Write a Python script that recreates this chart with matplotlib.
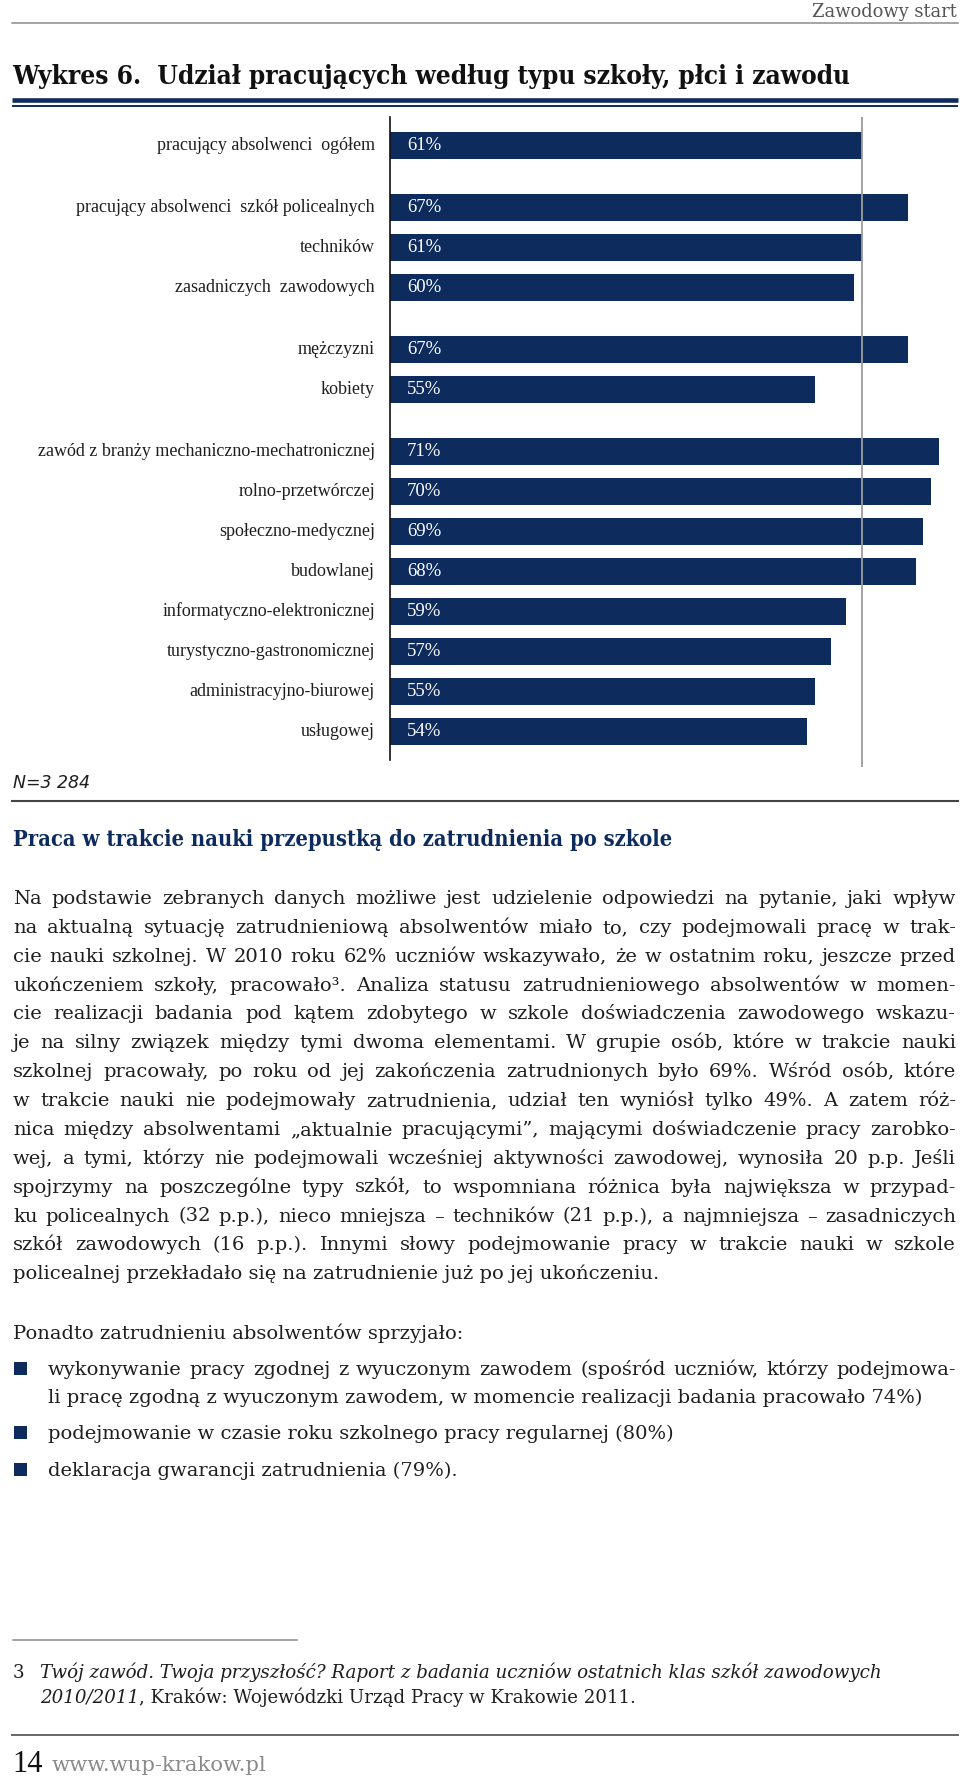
import matplotlib
matplotlib.use("Agg")
import matplotlib.pyplot as plt
from matplotlib.patches import Rectangle

# dane wykresu
kategorie = [
    "pracujący absolwenci  ogółem",
    "pracujący absolwenci  szkół policealnych",
    "techników",
    "zasadniczych  zawodowych",
    "mężczyzni",
    "kobiety",
    "zawód z branży mechaniczno-mechatronicznej",
    "rolno-przetwórczej",
    "społeczno-medycznej",
    "budowlanej",
    "informatyczno-elektronicznej",
    "turystyczno-gastronomicznej",
    "administracyjno-biurowej",
    "usługowej",
]
wartosci = [61, 67, 61, 60, 67, 55, 71, 70, 69, 68, 59, 57, 55, 54]
grupy = [1, 3, 2, 8]
srednia = 61

tytul = "Wykres 6.  Udział pracujących według typu szkoły, płci i zawodu"
naglowek = "Praca w trakcie nauki przepustką do zatrudnienia po szkole"
akapit = [
    "Na podstawie zebranych danych możliwe jest udzielenie odpowiedzi na pytanie, jaki wpływ",
    "na aktualną sytuację zatrudnieniową absolwentów miało to, czy podejmowali pracę w trak-",
    "cie nauki szkolnej. W 2010 roku 62% uczniów wskazywało, że w ostatnim roku, jeszcze przed",
    "ukończeniem szkoły, pracowało³. Analiza statusu zatrudnieniowego absolwentów w momen-",
    "cie realizacji badania pod kątem zdobytego w szkole doświadczenia zawodowego wskazu-",
    "je na silny związek między tymi dwoma elementami. W grupie osób, które w trakcie nauki",
    "szkolnej pracowały, po roku od jej zakończenia zatrudnionych było 69%. Wśród osób, które",
    "w trakcie nauki nie podejmowały zatrudnienia, udział ten wyniósł tylko 49%. A zatem róż-",
    "nica między absolwentami „aktualnie pracującymi”, mającymi doświadczenie pracy zarobko-",
    "wej, a tymi, którzy nie podejmowali wcześniej aktywności zawodowej, wynosiła 20 p.p. Jeśli",
    "spojrzymy na poszczególne typy szkół, to wspomniana różnica była największa w przypad-",
    "ku policealnych (32 p.p.), nieco mniejsza – techników (21 p.p.), a najmniejsza – zasadniczych",
    "szkół zawodowych (16 p.p.). Innymi słowy podejmowanie pracy w trakcie nauki w szkole",
    "policealnej przekładało się na zatrudnienie już po jej ukończeniu.",
]
wstep_listy = "Ponadto zatrudnieniu absolwentów sprzyjało:"
lista = [
    ["wykonywanie pracy zgodnej z wyuczonym zawodem (spośród uczniów, którzy podejmowa-",
     "li pracę zgodną z wyuczonym zawodem, w momencie realizacji badania pracowało 74%)"],
    ["podejmowanie w czasie roku szkolnego pracy regularnej (80%)"],
    ["deklaracja gwarancji zatrudnienia (79%)."],
]
przypis_1 = "Twój zawód. Twoja przyszłość? Raport z badania uczniów ostatnich klas szkół zawodowych"
przypis_2a = "2010/2011"
przypis_2b = ", Kraków: Wojewódzki Urząd Pracy w Krakowie 2011."

NAVY = "#0d2b5c"
TXT = "#1e1e1e"
SERIF = ["DejaVu Serif"]

W, H = 960, 1779
fig = plt.figure(figsize=(W / 100, H / 100), dpi=100)

# warstwa strony w pikselach
pg = fig.add_axes([0, 0, 1, 1])
pg.set_xlim(0, W)
pg.set_ylim(H, 0)
pg.axis("off")
r = fig.canvas.get_renderer()


def szer(t):
    return t.get_window_extent(r).width


def dopasuj(x, y, s, target, **kw):
    t = pg.text(x, y, s, fontsize=10, **kw)
    t.set_fontsize(10 * target / szer(t))
    return t


def wyjustuj(linia, x0, x1, y, size, **kw):
    slowa = linia.split(" ")
    teksty = [pg.text(0, y, s, fontsize=size, va="baseline", **kw) for s in slowa]
    ws = [szer(t) for t in teksty]
    gap = (x1 - x0 - sum(ws)) / max(len(slowa) - 1, 1)
    x = x0
    for t, w in zip(teksty, ws):
        t.set_x(x)
        x += w + gap


# nagłówek strony
dopasuj(957, 17, "Zawodowy start", 145, ha="right", va="baseline",
        family=SERIF, color="#555555")
pg.plot([12, 958], [23, 23], color="#8c8c8c", lw=1.1)

dopasuj(12, 84, tytul, 840, va="baseline", family=SERIF, fontweight="bold",
        fontstretch="condensed", color="#111111")
pg.plot([12, 958], [100, 100], color=NAVY, lw=3.3, solid_capstyle="butt")
pg.plot([12, 958], [106.3, 106.3], color=NAVY, lw=1.4, solid_capstyle="butt")

# wykres słupkowy
poz = []
p = 0.0
for g in grupy:
    for i in range(g):
        poz.append(p)
        p += 1
    p += 0.55

ax = fig.add_axes([390 / W, (H - 767) / H, 570 / W, 650 / H])
ax.barh(poz, wartosci, height=0.69, color=NAVY, zorder=2)
ax.axvline(srednia, color="#9c9c9c", lw=1.3, zorder=3)
ax.set_xlim(0, 570 / 7.73)
ax.set_ylim(15.54, -0.7125)
for s in ["top", "right", "bottom"]:
    ax.spines[s].set_visible(False)
ax.spines["left"].set_color("#111111")
ax.spines["left"].set_linewidth(1.2)
ax.spines["left"].set_bounds(-0.7125, 15.36)
ax.set_xticks([])
ax.set_yticks([])
ax.patch.set_alpha(0)

for y, lab, v in zip(poz, kategorie, wartosci):
    ax.annotate(lab, (0, y), xytext=(-15, 0), textcoords="offset pixels",
                ha="right", va="center", fontsize=13, family="Liberation Serif",
                color=TXT)
    ax.annotate(f"{v}%", (0, y), xytext=(17, 0), textcoords="offset pixels",
                ha="left", va="center", fontsize=13.5, family="Liberation Serif",
                color="white", zorder=4)

pg.text(13, 783, "N=3 284", fontsize=12.5, family="DejaVu Sans", style="italic",
        va="center", color=TXT)
pg.plot([12, 958], [801, 801], color="#444444", lw=1.5)

# tekst pod wykresem
dopasuj(13, 846, naglowek, 660, va="baseline", family=SERIF, fontweight="bold",
        fontstretch="condensed", color=NAVY)

# rozmiar czcionki akapitu tak, by najgęstsza linia się mieściła
proby = [pg.text(0, -100, l, fontsize=10, family=SERIF) for l in akapit[:-1] + [lista[0][0]]]
cele = [943] * (len(akapit) - 1) + [908]
rozm = min(14, min(10 * c / (szer(t) + 6) for t, c in zip(proby, cele)))
for t in proby:
    t.remove()

y0, krok = 904, 28.87
for i, linia in enumerate(akapit):
    y = y0 + i * krok
    if i < len(akapit) - 1:
        wyjustuj(linia, 13, 956, y, rozm, family=SERIF, color=TXT)
    else:
        pg.text(13, y, linia, fontsize=rozm, family=SERIF, va="baseline", color=TXT)

pg.text(13, 1339, wstep_listy, fontsize=rozm, family=SERIF, va="baseline", color=TXT)
y_pkt = [[1375, 1403], [1439], [1476]]
for punkt, ys in zip(lista, y_pkt):
    pg.add_patch(Rectangle((14, ys[0] - 13), 13, 13, color=NAVY, lw=0))
    for j, (linia, y) in enumerate(zip(punkt, ys)):
        if j < len(punkt) - 1:
            wyjustuj(linia, 48, 956, y, rozm, family=SERIF, color=TXT)
        else:
            pg.text(48, y, linia, fontsize=rozm, family=SERIF, va="baseline", color=TXT)

# przypis
pg.plot([13, 297], [1640, 1640], color="#8c8c8c", lw=1.1)
t1 = dopasuj(40, 1678, przypis_1, 843, va="baseline", family=SERIF,
             style="italic", color=TXT)
fs = t1.get_fontsize()
pg.text(13, 1678, "3", fontsize=fs, family=SERIF, va="baseline", color=TXT)
ta = pg.text(40, 1703, przypis_2a, fontsize=fs, family=SERIF, style="italic",
             va="baseline", color=TXT)
pg.text(40 + szer(ta), 1703, przypis_2b, fontsize=fs, family=SERIF,
        va="baseline", color=TXT)

# stopka
pg.plot([12, 958], [1735, 1735], color="#666666", lw=1.4)
pg.text(12, 1772, "14", fontsize=22, family="Liberation Serif", va="baseline", color="#111111")
dopasuj(52, 1771, "www.wup-krakow.pl", 215, va="baseline", family=SERIF, color="#8a8a8a")

fig.savefig("out.png", dpi=100)
